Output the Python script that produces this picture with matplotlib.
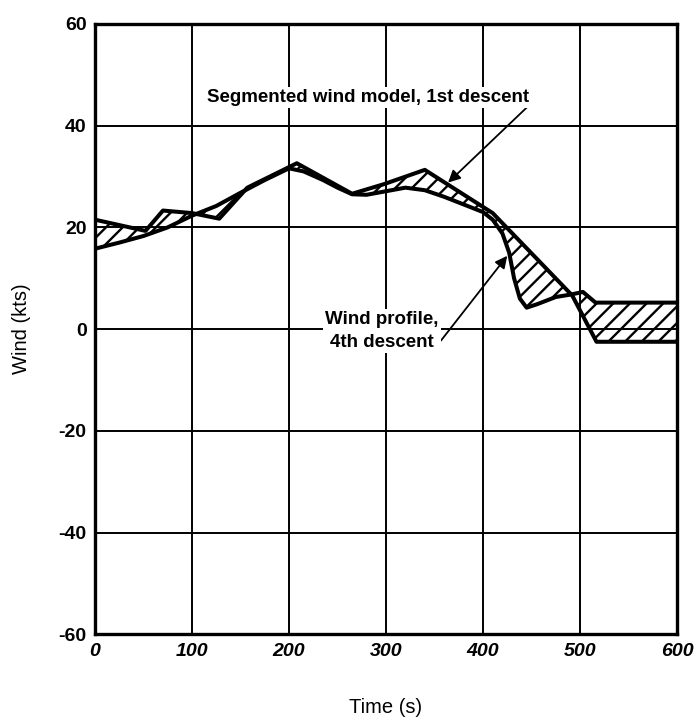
import matplotlib
matplotlib.use("Agg")
import matplotlib.pyplot as plt

plt.rcParams['font.family'] = ['Liberation Sans Narrow', 'Liberation Sans', 'DejaVu Sans']
plt.rcParams['axes.unicode_minus'] = False
plt.rcParams['hatch.linewidth'] = 1.7

# Segmented wind model, 1st descent (piecewise linear)
seg_t = [0, 52, 70, 100, 128, 157, 208, 265, 298, 340, 410, 492, 517, 600]
seg_w = [21.5, 19.3, 23.3, 22.8, 21.7, 27.8, 32.6, 26.6, 28.5, 31.3, 22.8, 6.6, -2.5, -2.5]

# Wind profile, 4th descent
prof_t = [0, 25, 50, 75, 100, 125, 150, 175, 200, 215, 235, 250, 265, 280, 300,
          320, 340, 360, 380, 400, 410, 420, 427, 432, 438, 445, 456, 475, 491,
          503, 516, 600]
prof_w = [15.8, 17.0, 18.3, 20.0, 22.3, 24.2, 26.8, 29.3, 31.6, 31.0, 29.3, 27.8,
          26.5, 26.4, 27.1, 27.8, 27.3, 26.0, 24.5, 23.0, 21.5, 18.8, 15.0, 10.0,
          6.0, 4.2, 4.9, 6.3, 6.8, 7.3, 5.2, 5.2]

xticks = [0, 100, 200, 300, 400, 500, 600]
yticks = [-60, -40, -20, 0, 20, 40, 60]

fig = plt.figure(figsize=(6.99, 7.24), dpi=100)
ax = fig.add_axes([0.136, 0.124, 0.8325, 0.843])

# hatched band between the two curves
ax.fill(seg_t + prof_t[::-1], seg_w + prof_w[::-1], facecolor='none',
        edgecolor='black', hatch='//', linewidth=0)
ax.plot(seg_t, seg_w, color='black', lw=2.9, solid_joinstyle='round')
ax.plot(prof_t, prof_w, color='black', lw=2.9, solid_joinstyle='round')

ax.set_xlim(0, 600)
ax.set_ylim(-60, 60)
ax.set_xticks(xticks)
ax.set_yticks(yticks)
ax.set_xticklabels([str(v) for v in xticks], fontsize=14, fontweight='bold', style='italic')
ax.set_yticklabels([str(v) for v in yticks], fontsize=14, fontweight='bold')
ax.tick_params(length=0, pad=6)
ax.grid(True, color='black', lw=1.4)
for s in ax.spines.values():
    s.set_linewidth(2.4)

ax.set_xlabel('Time (s)', fontsize=14.5, labelpad=28)
ax.set_ylabel('Wind (kts)', fontsize=14.5, labelpad=20)

box = dict(facecolor='white', edgecolor='none', pad=1.5)
ax.annotate('Segmented wind model, 1st descent', xy=(364, 28.8), xytext=(115, 45.6),
            fontsize=13.5, fontweight='bold', ha='left', va='center', bbox=box,
            arrowprops=dict(arrowstyle='-|>', color='black', lw=1.3,
                            mutation_scale=18, shrinkA=0, shrinkB=0,
                            relpos=(1.0, 0.0)))
ax.annotate('Wind profile,\n4th descent', xy=(425, 14.4), xytext=(296, -0.3),
            fontsize=13.5, fontweight='bold', ha='center', va='center',
            multialignment='center', linespacing=1.45, bbox=box,
            arrowprops=dict(arrowstyle='-|>', color='black', lw=1.3,
                            mutation_scale=18, shrinkA=0, shrinkB=0,
                            relpos=(0.95, 0.0)))

fig.savefig('out.png', dpi=100)
